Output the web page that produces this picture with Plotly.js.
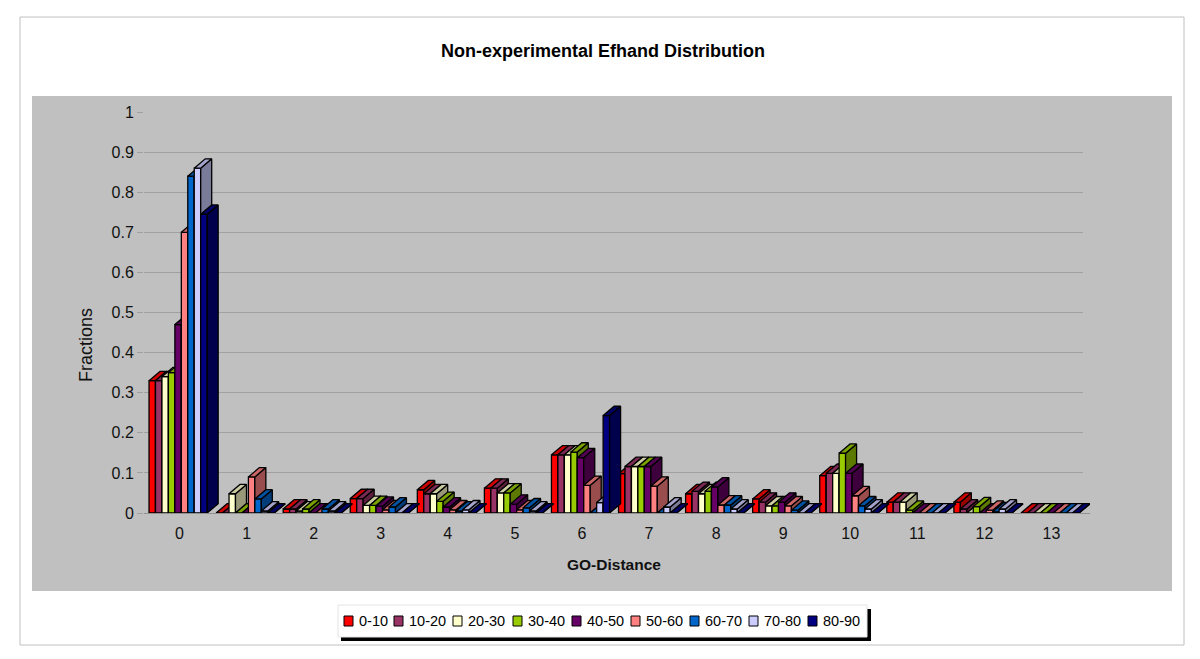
<!DOCTYPE html>
<html>
<head>
<meta charset="utf-8">
<script src="https://cdn.plot.ly/plotly-3.0.1.min.js"></script>
<style>
  html, body { margin: 0; padding: 0; background: #fff; }
</style>
</head>
<body>
<div id="chart" style="width:1200px;height:659px"></div>
<script>
// GO-distance categories
var distances = [0, 1, 2, 3, 4, 5, 6, 7, 8, 9, 10, 11, 12, 13];

// fractions per bin
var bin0to10 =   [0.33, 0,     0.01,  0.036, 0.058, 0.062, 0.145, 0.098, 0.048, 0.035, 0.093, 0.027, 0.027, 0];
var bin10to20 =  [0.33, 0,     0.01,  0.036, 0.048, 0.062, 0.145, 0.116, 0.054, 0.027, 0.099, 0.027, 0.01,  0];
var bin20to30 =  [0.34, 0.048, 0.005, 0.019, 0.048, 0.05,  0.145, 0.116, 0.048, 0.018, 0.099, 0.027, 0,     0];
var bin30to40 =  [0.35, 0,     0.01,  0.019, 0.029, 0.05,  0.152, 0.116, 0.054, 0.018, 0.149, 0.007, 0.016, 0];
var bin40to50 =  [0.47, 0,     0,     0.017, 0.015, 0.022, 0.138, 0.116, 0.065, 0.027, 0.099, 0,     0,     0];
var bin50to60 =  [0.70, 0.09,  0,     0.008, 0.008, 0.008, 0.069, 0.067, 0.02,  0.018, 0.043, 0,     0.007, 0];
var bin60to70 =  [0.84, 0.035, 0.01,  0.015, 0.005, 0.013, 0,     0,     0.02,  0.007, 0.018, 0,     0.003, 0];
var bin70to80 =  [0.86, 0.005, 0.005, 0,     0.008, 0.005, 0.026, 0.015, 0.01,  0,     0.01,  0,     0.01,  0];
var bin80to90 =  [0.745, 0,    0,     0,     0,     0,     0.243, 0,     0,     0,     0,     0,     0,     0];

var binNames = ['0-10', '10-20', '20-30', '30-40', '40-50', '50-60', '60-70', '70-80', '80-90'];
var binValues = [bin0to10, bin10to20, bin20to30, bin30to40, bin40to50, bin50to60, bin60to70, bin70to80, bin80to90];

// front, top and side colours of the fake 3D columns
var frontColors = ['#FF0000', '#993366', '#FFFFCC', '#99CC00', '#660066', '#FF8080', '#0066CC', '#CCCCFF', '#000080'];
var topColors =   ['#CC0000', '#7A2952', '#CCCCA3', '#7AA300', '#520052', '#CC6666', '#0052A3', '#A3A3CC', '#000066'];
var sideColors =  ['#990000', '#5C1F3D', '#99997A', '#5C7A00', '#3D003D', '#994D4D', '#003D7A', '#7A7A99', '#00004D'];

// bar size and depth in axis units
var barWidth = 0.0963;
var groupStart = -0.425;
var depthX = 0.164;
var depthY = 0.0232;

// plot area in pixels. It runs 7px past the gridlines' end (1083) because the
// fills of the last columns get clipped otherwise, and 1px above the 1 gridline
var W = 1200, H = 659;
var plotL = 144, plotR = 1090, plotT = 111, plotB = 513;
var yMax = (plotB - plotT) / 401;
var xMax = -0.5 + (plotR - plotL) / (939 / 14);

var regular = '"Liberation Sans", Arial, sans-serif';

function paperX(px) { return (px - plotL) / (plotR - plotL); }
function paperY(py) { return (plotB - py) / (plotB - plotT); }

function pixelRect(x0, y0, x1, y1, fill, line) {
  return {
    type: 'rect', xref: 'paper', yref: 'paper', layer: 'below',
    x0: paperX(x0), x1: paperX(x1), y0: paperY(y0), y1: paperY(y1),
    fillcolor: fill,
    line: line ? { color: line, width: 1 } : { width: 0 }
  };
}

var traces = [];

binValues.forEach(function (values, s) {
  var offset = groupStart + s * barWidth;
  var sideX = [], sideY = [], topX = [], topY = [];

  distances.forEach(function (d, i) {
    var left = d + offset, right = left + barWidth, v = values[i];
    sideX.push(right, right + depthX, right + depthX, right, right, null);
    sideY.push(0, depthY, v + depthY, v, 0, null);
    topX.push(left, left + depthX, right + depthX, right, left, null);
    topY.push(v, v + depthY, v + depthY, v, v, null);
  });

  var outline = { color: '#000', width: 1.3 };

  traces.push({
    type: 'bar', x: distances, y: values, name: binNames[s],
    width: barWidth, offset: offset, zorder: s,
    marker: { color: frontColors[s], line: { color: '#000', width: 1.3 } },
    cliponaxis: false, showlegend: false
  });
  traces.push({
    type: 'scatter', mode: 'lines', x: sideX, y: sideY, fill: 'toself',
    fillcolor: sideColors[s], line: outline, zorder: s,
    cliponaxis: false, showlegend: false, hoverinfo: 'skip'
  });
  traces.push({
    type: 'scatter', mode: 'lines', x: topX, y: topY, fill: 'toself',
    fillcolor: topColors[s], line: outline, zorder: s,
    cliponaxis: false, showlegend: false, hoverinfo: 'skip'
  });
});

// frame, grey wall, legend box
var shapes = [
  pixelRect(20, 17, 1184, 645, '#FFFFFF', '#C0C0C0'),
  pixelRect(32, 96, 1172, 591, '#C0C0C0', null),
  pixelRect(341, 609, 871, 641, '#000000', null),
  pixelRect(338, 605, 867, 637, '#FFFFFF', '#E4E4E4'),
  // hides the gridlines in the extra 7px on the right
  {
    type: 'rect', xref: 'x', yref: 'y', layer: 'between',
    x0: 13.5, x1: xMax, y0: -0.002, y1: yMax,
    fillcolor: '#C0C0C0', line: { width: 0 }
  }
];

// legend drawn by hand, plotly's own swatches are too wide for this row
var legendSwatchX = [344, 394, 453, 513, 572, 631, 690, 749, 808];
var annotations = [];
binNames.forEach(function (name, s) {
  var sx = legendSwatchX[s];
  shapes.push(pixelRect(sx, 616, sx + 9, 626, frontColors[s], '#000000'));
  annotations.push({
    xref: 'paper', yref: 'paper', x: paperX(sx + 12.5), y: paperY(620.5),
    xanchor: 'left', yanchor: 'middle', showarrow: false, text: name,
    font: { family: regular, size: 14.5, color: '#000' }
  });
});

// y title sits below the axis centre in the original, so not a real axis title
annotations.push({
  xref: 'paper', yref: 'paper', x: paperX(86), y: paperY(345),
  xanchor: 'center', yanchor: 'middle', showarrow: false, textangle: -90,
  text: 'Fractions',
  font: { family: regular, size: 18, color: '#111' }
});

// x title is placed by hand too, the wider plot would move its centre
annotations.push({
  xref: 'paper', yref: 'paper', x: paperX(613.5), y: paperY(564),
  xanchor: 'center', yanchor: 'middle', showarrow: false,
  text: '<b>GO-Distance</b>',
  font: { family: regular, size: 15.5, color: '#111' }
});

var layout = {
  width: W,
  height: H,
  margin: { l: plotL, r: W - plotR, t: plotT, b: H - plotB, pad: 0 },
  paper_bgcolor: '#FFFFFF',
  plot_bgcolor: 'rgba(0,0,0,0)',
  barmode: 'overlay',
  showlegend: false,
  font: { family: regular, color: '#111' },
  title: {
    text: '<b>Non-experimental Efhand Distribution</b>',
    font: { family: regular, size: 18, color: '#000' },
    xref: 'container', yref: 'container',
    x: 603 / W, y: 1 - 51 / H, xanchor: 'center', yanchor: 'middle'
  },
  xaxis: {
    range: [-0.5, xMax],
    tickmode: 'array',
    tickvals: distances,
    ticks: '',
    showgrid: false,
    zeroline: false,
    showline: false,
    ticklabelstandoff: 9,
    ticklabelshift: 2,
    tickfont: { size: 16, color: '#111' }
  },
  yaxis: {
    range: [0, yMax],
    tick0: 0,
    dtick: 0.1,
    ticks: 'outside',
    ticklen: 6,
    tickcolor: '#A0A0A0',
    showline: true,
    linecolor: '#A0A0A0',
    gridcolor: '#A0A0A0',
    gridwidth: 1,
    zeroline: true,
    zerolinecolor: '#909090',
    tickfont: { size: 16, color: '#111' }
  },
  shapes: shapes,
  annotations: annotations
};

Plotly.newPlot('chart', traces, layout, { displayModeBar: false, staticPlot: true });
</script>
</body>
</html>
